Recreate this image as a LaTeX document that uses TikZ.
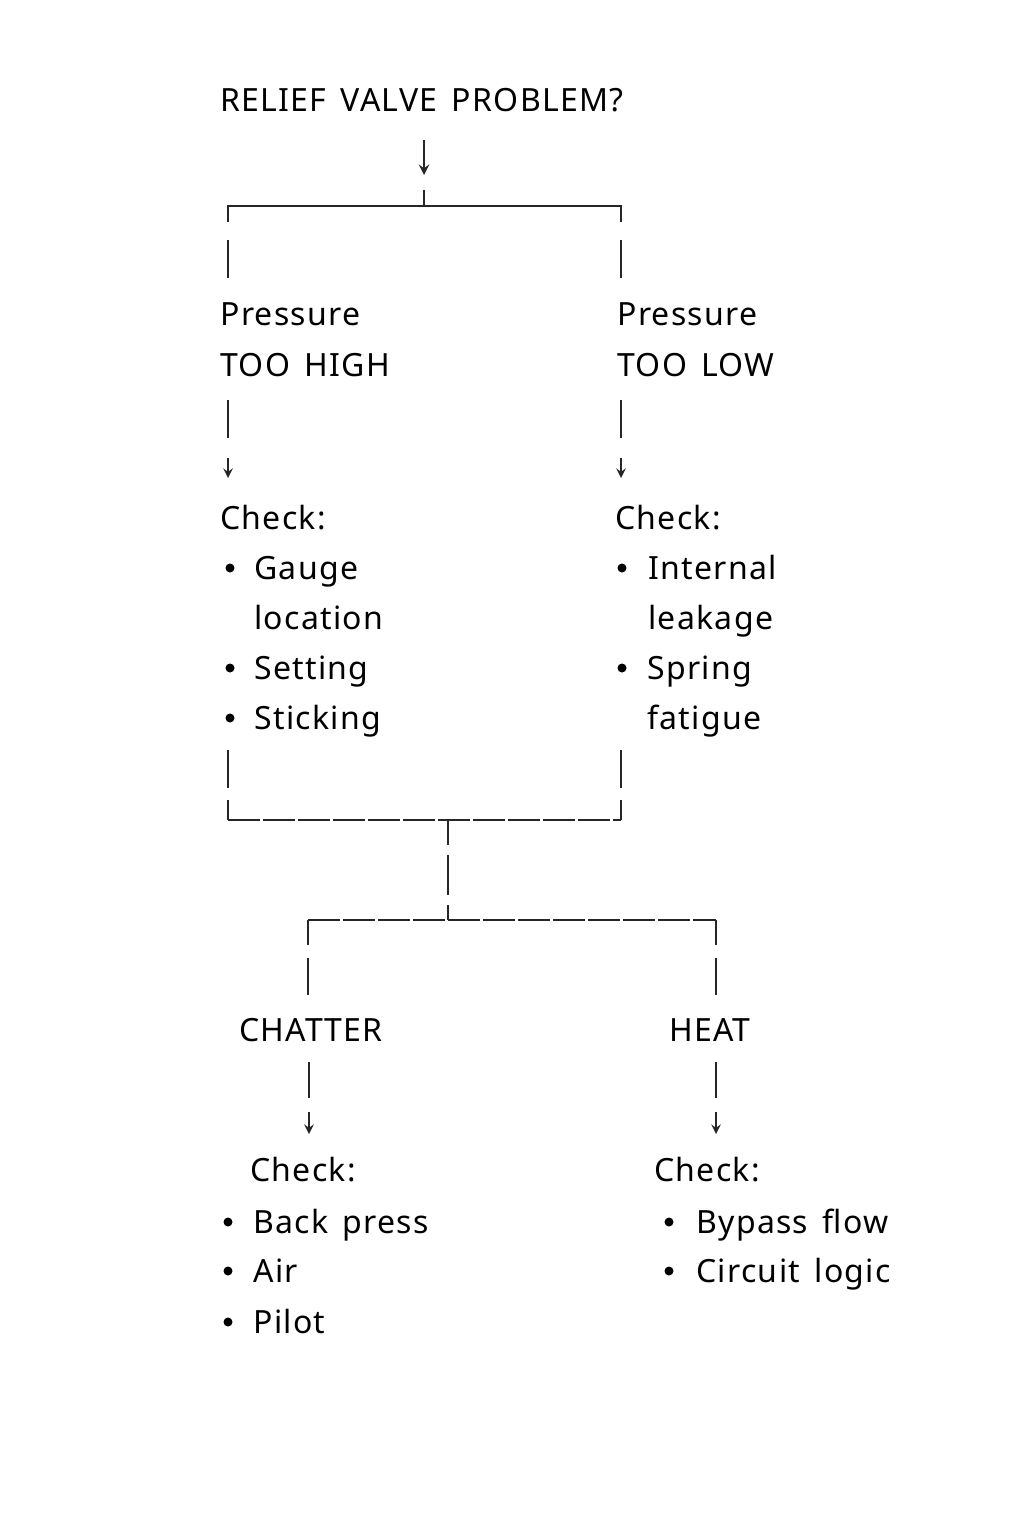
\documentclass[tikz,border=0pt]{standalone}
\usepackage{fontspec}
\setmainfont{Noto Sans}[LetterSpace=4,WordSpace=1.5]
\begin{document}
\begin{tikzpicture}[x=0.5pt,y=-0.5pt,
  t/.style={anchor=base west,inner sep=0,font=\fontsize{16}{19}\selectfont},
  ln/.style={line width=1.1pt,black!85},
  dl/.style={ln,dash pattern=on 16pt off 1.5pt},
  ar/.style={ln,->,>=stealth}]
\useasboundingbox[fill=white] (0,0) rectangle (1024,1536);
\def\o{11}
\node[t] (title) at (220,101+\o) {RELIEF VALVE PROBLEM?};
\draw[ln,->,>=stealth,line width=1.3pt] (424,140) -- (424,175);
\draw[ln] (424,190) -- (424,206);
\draw[ln] (228,222) -- (228,206) -- (621,206) -- (621,222);
\draw[ln] (228,240) -- (228,278); \draw[ln] (621,240) -- (621,278);
% left
\node[t] (ph) at (220,314+\o) {Pressure};
\node[t] (th) at (220,365+\o) {TOO HIGH};
\draw[ln] (228,400) -- (228,438);
\draw[ar] (228,458) -- (228,478);
\node[t] (c1) at (220,518+\o) {Check:};
\foreach \y/\s in {568/Gauge,668/Setting,718/Sticking}{\fill (230,\y) circle (4.5);\node[t] at (254,\y+\o) {\s};}
\node[t] at (254,618+\o) {location};
% right
\node[t] (pl) at (617,314+\o) {Pressure};
\node[t] (tl) at (617,365+\o) {TOO LOW};
\draw[ln] (621,400) -- (621,438);
\draw[ar] (621,458) -- (621,478);
\node[t] (c2) at (615,518+\o) {Check:};
\fill (622,568) circle (4.5); \node[t] at (648,568+\o) {Internal};
\node[t] at (648,618+\o) {leakage};
\fill (622,668) circle (4.5); \node[t] at (647,668+\o) {Spring};
\node[t] at (647,718+\o) {fatigue};
% merge
\draw[ln] (228,750) -- (228,788); \draw[ln] (621,750) -- (621,788);
\draw[ln] (228,800) -- (228,820); \draw[ln] (621,800) -- (621,820);
\draw[dl] (228,820) -- (621,820);
\draw[ln] (448,820) -- (448,845); \draw[ln] (448,855) -- (448,895); \draw[ln] (448,905) -- (448,920);
\draw[dl] (308,920) -- (716,920);
\draw[ln] (308,920) -- (308,945); \draw[ln] (716,920) -- (716,945);
\draw[ln] (308,958) -- (308,995); \draw[ln] (716,958) -- (716,995);
% chatter
\node[t,anchor=base] (ch) at (311,1030+\o) {CHATTER};
\draw[ln] (309,1062) -- (309,1098);
\draw[ar] (309,1112) -- (309,1134);
\node[t] (c3) at (250,1170+\o) {Check:};
\foreach \y/\s in {1222/Back press,1271/Air,1322/Pilot}{\fill (228,\y) circle (4.5);\node[t] at (253,\y+\o) {\s};}
% heat
\node[t,anchor=base] (he) at (710,1030+\o) {HEAT};
\draw[ln] (716,1062) -- (716,1098);
\draw[ar] (716,1112) -- (716,1134);
\node[t] (c4) at (654,1170+\o) {Check:};
\foreach \y/\s in {1222/Bypass flow,1271/Circuit logic}{\fill (669,\y) circle (4.5);\node[t] at (696,\y+\o) {\s};}
\end{tikzpicture}
\end{document}
